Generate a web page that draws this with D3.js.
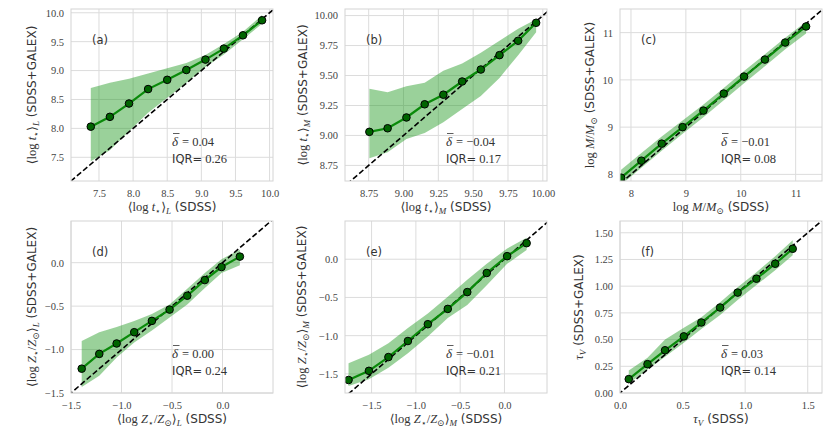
<!DOCTYPE html>
<html><head><meta charset="utf-8">
<script src="https://cdn.jsdelivr.net/npm/d3@7"></script>
<style>body{margin:0;background:#fff}</style>
</head><body>
<svg id="fig" width="831" height="432"></svg>
<script>
// ---------- data ----------
const a_x  = [7.38, 7.66, 7.94, 8.22, 8.50, 8.78, 9.06, 9.33, 9.61, 9.89];
const a_y  = [8.03, 8.20, 8.43, 8.68, 8.84, 9.01, 9.19, 9.38, 9.61, 9.87];
const a_hi = [8.70, 8.79, 8.86, 8.95, 9.04, 9.13, 9.27, 9.46, 9.67, 9.96];
const a_lo = [7.43, 7.62, 7.95, 8.27, 8.53, 8.79, 9.06, 9.28, 9.54, 9.81];

const b_x  = [8.755, 8.886, 9.021, 9.152, 9.286, 9.421, 9.555, 9.689, 9.823, 9.952];
const b_y  = [9.03, 9.06, 9.15, 9.26, 9.34, 9.45, 9.55, 9.67, 9.79, 9.94];
const b_hi = [9.39, 9.36, 9.41, 9.44, 9.54, 9.60, 9.69, 9.79, 9.89, 9.97];
const b_lo = [8.81, 8.86, 8.97, 9.02, 9.11, 9.22, 9.33, 9.48, 9.67, 9.86];

const c_x  = [7.82, 8.19, 8.56, 8.94, 9.32, 9.69, 10.06, 10.44, 10.81, 11.19];
const c_y  = [7.93, 8.29, 8.65, 9.00, 9.35, 9.71, 10.07, 10.43, 10.79, 11.13];
const c_hi = [8.10, 8.45, 8.80, 9.14, 9.48, 9.83, 10.19, 10.54, 10.89, 11.23];
const c_lo = [7.78, 8.14, 8.50, 8.86, 9.21, 9.57, 9.93, 10.29, 10.65, 10.98];

const d_x  = [-1.394, -1.220, -1.048, -0.874, -0.699, -0.524, -0.349, -0.175, -0.01, 0.172];
const d_y  = [-1.22, -1.05, -0.93, -0.80, -0.67, -0.54, -0.38, -0.20, -0.05, 0.07];
const d_hi = [-0.90, -0.80, -0.74, -0.67, -0.59, -0.48, -0.30, -0.12, 0.04, 0.15];
const d_lo = [-1.43, -1.30, -1.09, -0.92, -0.78, -0.63, -0.48, -0.29, -0.12, -0.03];

const e_x  = [-1.76, -1.53, -1.31, -1.09, -0.865, -0.64, -0.42, -0.20, 0.03, 0.25];
const e_y  = [-1.58, -1.46, -1.28, -1.07, -0.85, -0.65, -0.43, -0.18, 0.04, 0.21];
const e_hi = [-1.36, -1.25, -1.10, -0.90, -0.71, -0.49, -0.27, -0.06, 0.14, 0.28];
const e_lo = [-1.66, -1.57, -1.42, -1.23, -1.01, -0.77, -0.60, -0.34, -0.06, 0.12];

const f_x  = [0.07, 0.22, 0.36, 0.51, 0.65, 0.80, 0.94, 1.09, 1.24, 1.38];
const f_y  = [0.13, 0.27, 0.40, 0.53, 0.66, 0.80, 0.94, 1.07, 1.21, 1.35];
const f_hi = [0.21, 0.33, 0.50, 0.61, 0.71, 0.85, 0.99, 1.13, 1.28, 1.43];
const f_lo = [0.09, 0.22, 0.34, 0.47, 0.60, 0.73, 0.87, 1.01, 1.15, 1.29];

const panelTags  = ["(a)", "(b)", "(c)", "(d)", "(e)", "(f)"];
const deltaVals  = ["0.04", "\u22120.04", "\u22120.01", "0.00", "\u22120.01", "0.03"];
const iqrVals    = ["0.26", "0.17", "0.08", "0.24", "0.21", "0.14"];

const ticks_a = [7.5, 8.0, 8.5, 9.0, 9.5, 10.0];
const ticks_b = [8.75, 9.00, 9.25, 9.50, 9.75, 10.00];
const ticks_c = [8, 9, 10, 11];
const ticks_de = [-1.5, -1.0, -0.5, 0.0];
const ticks_fx = [0.0, 0.5, 1.0, 1.5];
const ticks_fy = [0.00, 0.25, 0.50, 0.75, 1.00, 1.25, 1.50];

// axis label pieces: r = serif roman, i = serif italic, s = subscript, S = sans
const lab_a = [["r","\u27E8log "],["i","t"],["s","\u22C6"],["r","\u27E9"],["si","L"]];
const lab_b = [["r","\u27E8log "],["i","t"],["s","\u22C6"],["r","\u27E9"],["si","M"]];
const lab_c = [["r","log "],["i","M"],["r","/"],["i","M"],["s","\u2299"]];
const lab_d = [["r","\u27E8log "],["i","Z"],["s","\u22C6"],["r","/"],["i","Z"],["s","\u2299"],["r","\u27E9"],["si","L"]];
const lab_e = [["r","\u27E8log "],["i","Z"],["s","\u22C6"],["r","/"],["i","Z"],["s","\u2299"],["r","\u27E9"],["si","M"]];
const lab_f = [["i","\u03C4"],["si","V"]];

// ---------- layout ----------
const SERIF = "'Liberation Serif','DejaVu Serif',serif";
const SANS = "'DejaVu Sans',sans-serif";
const W = 202, H = 172;
const panels = [
  {x:a_x,y:a_y,hi:a_hi,lo:a_lo,left:71, top:9,  xd:[7.09,10.05], yd:[7.09,10.065], xt:ticks_a, yt:ticks_a, xf:".1f", yf:".1f", lab:lab_a, yoff:39},
  {x:b_x,y:b_y,hi:b_hi,lo:b_lo,left:345,top:9,  xd:[8.58,10.03], yd:[8.62,10.055], xt:ticks_b, yt:ticks_b, xf:".2f", yf:".2f", lab:lab_b, yoff:42},
  {x:c_x,y:c_y,hi:c_hi,lo:c_lo,left:620,top:9,  xd:[7.80,11.48], yd:[7.86,11.5],   xt:ticks_c, yt:ticks_c, xf:"d",   yf:"d",   lab:lab_c, yoff:30},
  {x:d_x,y:d_y,hi:d_hi,lo:d_lo,left:71, top:221,xd:[-1.5,0.5],   yd:[-1.5,0.48],   xt:ticks_de,yt:ticks_de,xf:".1f", yf:".1f", lab:lab_d, yoff:39.5},
  {x:e_x,y:e_y,hi:e_hi,lo:e_lo,left:345,top:221,xd:[-1.80,0.48], yd:[-1.75,0.50],  xt:ticks_de,yt:ticks_de,xf:".1f", yf:".1f", lab:lab_e, yoff:43},
  {x:f_x,y:f_y,hi:f_hi,lo:f_lo,left:620,top:221,xd:[0,1.614],    yd:[0,1.61],      xt:ticks_fx,yt:ticks_fy,xf:".1f", yf:".2f", lab:lab_f, yoff:41},
];

const svg = d3.select("#fig");
svg.append("rect").attr("width",831).attr("height",432).attr("fill","#fff");

function rich(textSel, segs, size, suffix) {
  let shift = 0;
  segs.forEach(([k, t]) => {
    const sub = k[0] === "s";
    const want = sub ? 3 : 0;
    const ts = textSel.append("tspan").text(t)
      .attr("font-family", SERIF)
      .attr("font-size", sub ? size * 0.72 : size)
      .attr("dy", want - shift);
    if (k === "i" || k === "si") ts.attr("font-style", "italic");
    shift = want;
  });
  textSel.append("tspan").text(suffix).attr("font-family", SANS)
    .attr("font-size", size - 0.5).attr("dy", -shift);
}

panels.forEach((p, idx) => {
  const g = svg.append("g").attr("transform", `translate(${p.left},${p.top})`);
  const xs = d3.scaleLinear().domain(p.xd).range([0, W]);
  const ys = d3.scaleLinear().domain(p.yd).range([H, 0]);
  const cid = "clip" + idx;
  g.append("clipPath").attr("id", cid).append("rect").attr("width", W).attr("height", H);

  // grid
  g.append("g").selectAll("line").data(p.xt).join("line")
    .attr("x1", d => xs(d)).attr("x2", d => xs(d)).attr("y1", 0).attr("y2", H)
    .attr("stroke", "#dcdcdc").attr("stroke-width", 1);
  g.append("g").selectAll("line").data(p.yt).join("line")
    .attr("y1", d => ys(d)).attr("y2", d => ys(d)).attr("x1", 0).attr("x2", W)
    .attr("stroke", "#dcdcdc").attr("stroke-width", 1);

  // tick labels via axes
  const xa = g.append("g").attr("transform", `translate(0,${H})`)
    .call(d3.axisBottom(xs).tickValues(p.xt).tickFormat(d3.format(p.xf)).tickSize(0).tickPadding(9));
  const ya = g.append("g")
    .call(d3.axisLeft(ys).tickValues(p.yt).tickFormat(d3.format(p.yf)).tickSize(0).tickPadding(7));
  [xa, ya].forEach(a => {
    a.select(".domain").remove();
    a.selectAll("text").attr("font-family", SERIF).attr("font-size", 10.5).attr("fill", "#444");
  });

  const data = p.x.map((v, i) => ({x: v, y: p.y[i], hi: p.hi[i], lo: p.lo[i]}));
  const plot = g.append("g").attr("clip-path", `url(#${cid})`);

  // band
  plot.append("path").datum(data)
    .attr("d", d3.area().x(d => xs(d.x)).y0(d => ys(d.lo)).y1(d => ys(d.hi)))
    .attr("fill", "#1f9a1f").attr("fill-opacity", 0.45);

  // identity line
  const lo = Math.min(p.xd[0], p.yd[0]) - 1, hi = Math.max(p.xd[1], p.yd[1]) + 1;
  plot.append("line")
    .attr("x1", xs(lo)).attr("y1", ys(lo)).attr("x2", xs(hi)).attr("y2", ys(hi))
    .attr("stroke", "#000").attr("stroke-width", 1.6).attr("stroke-dasharray", "5.5,2.6");

  // median line
  plot.append("path").datum(data)
    .attr("d", d3.line().x(d => xs(d.x)).y(d => ys(d.y)))
    .attr("fill", "none").attr("stroke", "#0a8a0a").attr("stroke-width", 2.2);

  plot.append("g").selectAll("circle").data(data).join("circle")
    .attr("cx", d => xs(d.x)).attr("cy", d => ys(d.y)).attr("r", 3.8)
    .attr("fill", "#006400").attr("stroke", "#000").attr("stroke-width", 1);

  // frame
  g.append("rect").attr("width", W).attr("height", H)
    .attr("fill", "none").attr("stroke", "#d4d4d4").attr("stroke-width", 1);

  // panel tag
  g.append("text").attr("x", 21).attr("y", 35).text(panelTags[idx])
    .attr("font-family", SANS).attr("font-size", 11.5).attr("fill", "#333");

  // stats
  const sx = W * 0.5, sy1 = H - 35, sy2 = H - 18;
  const dt = g.append("text").attr("x", sx).attr("y", sy1).text("\u03B4")
    .attr("font-family", SERIF).attr("font-style", "italic").attr("font-size", 13).attr("fill", "#333");
  const bb = dt.node().getBBox();
  g.append("line").attr("x1", bb.x + 1).attr("x2", bb.x + bb.width + 0.5)
    .attr("y1", bb.y - 0.5).attr("y2", bb.y - 0.5).attr("stroke", "#333").attr("stroke-width", 0.8);
  g.append("text").attr("x", bb.x + bb.width + 3).attr("y", sy1).text("= " + deltaVals[idx])
    .attr("font-family", SERIF).attr("font-size", 12.5).attr("fill", "#333");
  const it = g.append("text").attr("x", sx).attr("y", sy2).attr("fill", "#333");
  it.append("tspan").text("IQR=").attr("font-family", SANS).attr("font-size", 11.5);
  it.append("tspan").text(" " + iqrVals[idx]).attr("font-family", SERIF).attr("font-size", 12.5);

  // x label
  const xl = g.append("text").attr("x", W / 2).attr("y", H + 29.5)
    .attr("text-anchor", "middle").attr("fill", "#333");
  rich(xl, p.lab, 12.5, " (SDSS)");

  // y label
  const yl = g.append("text").attr("transform", `translate(${-p.yoff + 4},${H / 2}) rotate(-90)`)
    .attr("text-anchor", "middle").attr("fill", "#333");
  rich(yl, p.lab, 12.5, " (SDSS+GALEX)");
});
</script>
</body></html>
